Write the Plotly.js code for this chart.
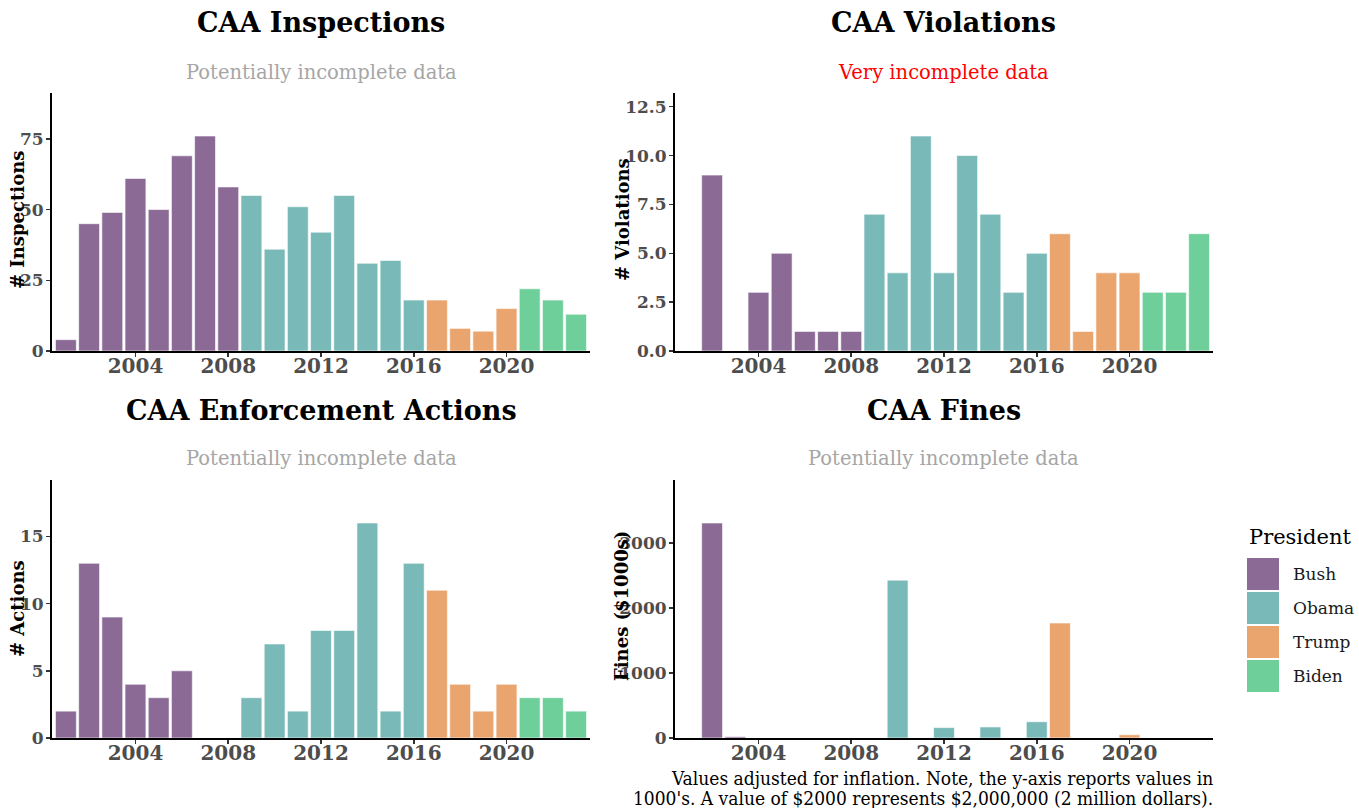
<!DOCTYPE html>
<html>
<head>
<meta charset="utf-8">
<script src="https://cdn.plot.ly/plotly-3.0.1.min.js"></script>
<style>
  html, body { margin: 0; padding: 0; background: #ffffff; }
  #chart { width: 1359px; height: 808px; }
</style>
</head>
<body>
<div id="chart"></div>
<script>
// ---- Data ----
const years = [2001,2002,2003,2004,2005,2006,2007,2008,2009,2010,2011,2012,2013,2014,2015,2016,2017,2018,2019,2020,2021,2022,2023];
const inspections = [4,45,49,61,50,69,76,58,55,36,51,42,55,31,32,18,18,8,7,15,22,18,13];
const violations  = [0,9,0,3,5,1,1,1,7,4,11,4,10,7,3,5,6,1,4,4,3,3,6];
const enforcement = [2,13,9,4,3,5,0,0,3,7,2,8,8,16,2,13,11,4,2,4,3,3,2];
const fines       = [0,3310,20,0,0,0,0,0,0,2430,0,160,0,170,0,250,1770,0,0,50,0,0,0];

const presidents = ['Bush','Obama','Trump','Biden'];
const termStart  = [2001,2009,2017,2021];
const presidentColors = ['#8c6a96','#79bab9','#eaa56f','#6ecf9a'];

const xTickVals = [2004,2008,2012,2016,2020];
const xTickText = ['2004','2008','2012','2016','2020'];
const inspTickVals = [0,25,50,75];
const inspTickText = ['0','25','50','75'];
const violTickVals = [0,2.5,5,7.5,10,12.5];
const violTickText = ['0.0','2.5','5.0','7.5','10.0','12.5'];
const enfTickVals = [0,5,10,15];
const enfTickText = ['0','5','10','15'];
const fineTickVals = [0,1000,2000,3000];
const fineTickText = ['0','1000','2000','3000'];

const captionLines = [
  "Values adjusted for inflation. Note, the y-axis reports values in",
  "1000's. A value of $2000 represents $2,000,000 (2 million dollars)."
];

// ---- Helpers ----
function presidentIndex(y) {
  let idx = 0;
  for (let i = 0; i < termStart.length; i++) if (y >= termStart[i]) idx = i;
  return idx;
}
const barColors = years.map(y => presidentColors[presidentIndex(y)]);

const W = 1359, H = 808;
const px = x => x / W;
const py = y => 1 - y / H;

const SERIF = 'DejaVu Serif';
const xTickFont = {family: SERIF, size: 20, color: '#4d4d4d', weight: 'bold'};
const yTickFont = {family: SERIF, size: 17, color: '#4d4d4d', weight: 'bold'};

function barTrace(vals, xa, ya, name) {
  return {
    type: 'bar', x: years, y: vals, xaxis: xa, yaxis: ya, name: name,
    width: 0.9,
    marker: {color: barColors, line: {color: '#ffffff', width: 0.6}},
    showlegend: false, hoverinfo: 'x+y'
  };
}

const data = [
  barTrace(inspections, 'x', 'y', 'Inspections'),
  barTrace(violations, 'x2', 'y2', 'Violations'),
  barTrace(enforcement, 'x3', 'y3', 'Enforcement Actions'),
  barTrace(fines, 'x4', 'y4', 'Fines')
];

function xAxis(domain, anchor) {
  return {
    domain: domain, anchor: anchor, range: [2000.4, 2023.6],
    tickvals: xTickVals, ticktext: xTickText,
    showline: true, linecolor: '#000000', linewidth: 2,
    ticks: 'outside', ticklen: 4, tickwidth: 1.5, tickcolor: '#333333',
    ticklabelstandoff: -8,
    showgrid: false, zeroline: false, tickfont: xTickFont, fixedrange: true
  };
}
function yAxis(domain, anchor, maxVal, tv, tt) {
  return {
    domain: domain, anchor: anchor, range: [0, maxVal * 1.2],
    tickvals: tv, ticktext: tt,
    showline: true, linecolor: '#000000', linewidth: 2,
    ticks: 'outside', ticklen: 4, tickwidth: 1.5, tickcolor: '#333333',
    ticklabelstandoff: -1,
    showgrid: false, zeroline: false, tickfont: yTickFont, fixedrange: true
  };
}

const xLeft = [px(52), px(590)];
const xRight = [px(675), px(1213)];
const yTop = [py(351), py(93)];
const yBot = [py(738), py(480)];

function ann(text, x, y, opts) {
  return Object.assign({
    text: text, x: px(x), y: py(y), xref: 'paper', yref: 'paper',
    showarrow: false, xanchor: 'center', yanchor: 'middle'
  }, opts);
}
const titleFont = {family: SERIF, size: 27, color: '#000000', weight: 'bold'};
const subFont = {family: SERIF, size: 19.5, color: '#a6a6a6'};
const axTitleFont = {family: SERIF, size: 18, color: '#000000', weight: 'bold'};
const captionFont = {family: 'DejaVu Serif Condensed, DejaVu Serif', size: 19, color: '#000000'};

const annotations = [
  ann('CAA Inspections', 321, 22, {font: titleFont}),
  ann('CAA Violations', 944, 22, {font: titleFont}),
  ann('CAA Enforcement Actions', 321, 410, {font: titleFont}),
  ann('CAA Fines', 944, 410, {font: titleFont}),
  ann('Potentially incomplete data', 321, 73, {font: subFont}),
  ann('Very incomplete data', 944, 73, {font: Object.assign({}, subFont, {color: '#ff0000'})}),
  ann('Potentially incomplete data', 321, 459, {font: subFont}),
  ann('Potentially incomplete data', 944, 459, {font: subFont}),
  ann('# Inspections', 17, 220, {font: axTitleFont, textangle: -90}),
  ann('# Violations', 622, 220, {font: axTitleFont, textangle: -90}),
  ann('# Actions', 17, 609, {font: axTitleFont, textangle: -90}),
  ann('Fines ($1000s)', 621, 606, {font: axTitleFont, textangle: -90}),
  ann(captionLines[0], 1215, 778, {xanchor: 'right', font: captionFont}),
  ann(captionLines[1], 1215, 798, {xanchor: 'right', font: captionFont}),
  ann('President', 1247, 537, {xanchor: 'left', font: {family: SERIF, size: 21, color: '#000000'}})
];

const shapes = [];
presidents.forEach((p, i) => {
  const top = 558 + i * 34;
  shapes.push({type: 'rect', xref: 'paper', yref: 'paper',
    x0: px(1247), x1: px(1279), y0: py(top + 32), y1: py(top),
    fillcolor: presidentColors[i], line: {width: 0}});
  annotations.push(ann(p, 1291, top + 16, {xanchor: 'left',
    font: {family: SERIF, size: 17, color: '#1a1a1a'}}));
});

const layout = {
  width: W, height: H,
  margin: {l: 0, r: 0, t: 0, b: 0},
  paper_bgcolor: '#ffffff', plot_bgcolor: '#ffffff',
  showlegend: false, bargap: 0,
  xaxis: xAxis(xLeft, 'y'),
  yaxis: yAxis(yTop, 'x', Math.max(...inspections), inspTickVals, inspTickText),
  xaxis2: xAxis(xRight, 'y2'),
  yaxis2: yAxis(yTop, 'x2', Math.max(...violations), violTickVals, violTickText),
  xaxis3: xAxis(xLeft, 'y3'),
  yaxis3: yAxis(yBot, 'x3', Math.max(...enforcement), enfTickVals, enfTickText),
  xaxis4: xAxis(xRight, 'y4'),
  yaxis4: yAxis(yBot, 'x4', Math.max(...fines), fineTickVals, fineTickText),
  annotations: annotations,
  shapes: shapes,
  hovermode: false
};

Plotly.newPlot('chart', data, layout, {displayModeBar: false, staticPlot: true});
</script>
</body>
</html>
